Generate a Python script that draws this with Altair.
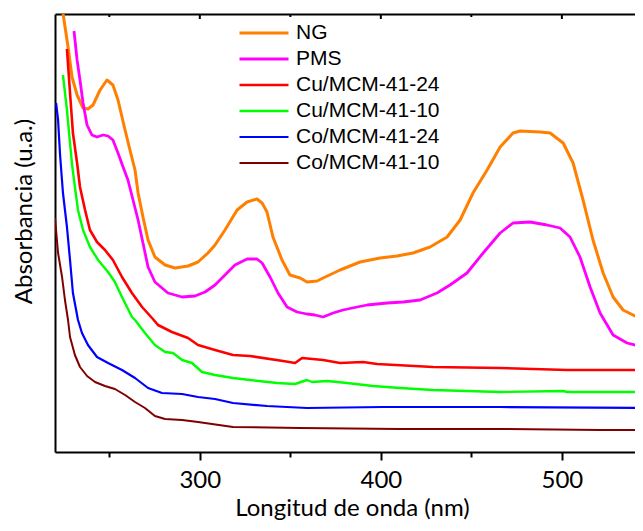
import altair as alt
import pandas as pd

names = ["NG", "PMS", "Cu/MCM-41-24", "Cu/MCM-41-10", "Co/MCM-41-24", "Co/MCM-41-10"]
colors = ["#FF7F00", "#FF00FF", "#FF0000", "#00FF00", "#0000FF", "#800000"]
widths = [3, 2, 2, 2, 2, 2]

ng_nm = [224.4, 227.2, 229.4, 232.2, 235.5, 238.2, 241.0, 244.9, 248.7, 252.0, 254.8, 258.7, 261.4, 264.2, 265.9,
         268.6, 271.4, 275.2, 280.8, 286.3, 293.5, 299.0, 304.5, 308.4, 313.9, 320.6, 326.1, 331.6, 334.4, 337.1,
         340.4, 345.4, 349.8, 355.4, 359.2, 364.8, 368.1, 377.5, 388.5, 399.6, 408.9, 417.8, 427.2, 436.6, 443.8,
         450.9, 458.7, 465.9, 473.0, 476.9, 488.0, 493.5, 500.7, 506.2, 511.7, 517.2, 522.8, 528.3, 533.8, 539.3, 544.9]
ng_abs = [4.39, 4.05, 3.75, 3.57, 3.44, 3.43, 3.47, 3.62, 3.72, 3.67, 3.52, 3.22, 3.02, 2.82, 2.59,
          2.35, 2.12, 1.95, 1.87, 1.84, 1.86, 1.90, 1.99, 2.07, 2.22, 2.42, 2.50, 2.53, 2.49, 2.40,
          2.15, 1.92, 1.77, 1.74, 1.70, 1.71, 1.74, 1.82, 1.90, 1.94, 1.96, 1.99, 2.05, 2.15, 2.32,
          2.59, 2.82, 3.05, 3.19, 3.21, 3.20, 3.19, 3.09, 2.89, 2.52, 2.12, 1.79, 1.55, 1.42, 1.37, 1.33]

pms_nm = [230.5, 232.2, 233.8, 235.5, 237.7, 240.4, 243.2, 246.5, 249.3, 252.0, 254.8, 257.6, 260.3, 263.1, 265.9,
          268.6, 271.4, 275.2, 282.4, 290.2, 297.3, 302.9, 308.4, 313.9, 319.4, 326.1, 331.6, 334.4, 338.8, 343.2,
          348.2, 353.7, 359.2, 363.6, 368.1, 373.6, 379.1, 386.9, 392.4, 403.4, 412.3, 421.7, 431.0, 438.2, 447.6,
          456.5, 465.9, 473.0, 482.4, 491.8, 499.0, 504.5, 510.0, 515.6, 521.1, 528.3, 536.0, 544.9]
pms_abs = [4.21, 3.92, 3.72, 3.49, 3.27, 3.17, 3.15, 3.17, 3.16, 3.12, 2.99, 2.85, 2.72, 2.52, 2.32,
           2.09, 1.85, 1.70, 1.59, 1.55, 1.56, 1.60, 1.67, 1.77, 1.87, 1.93, 1.93, 1.89, 1.75, 1.59,
           1.45, 1.40, 1.38, 1.37, 1.35, 1.39, 1.42, 1.45, 1.47, 1.49, 1.50, 1.52, 1.59, 1.67, 1.79,
           1.99, 2.19, 2.29, 2.30, 2.27, 2.24, 2.15, 1.95, 1.65, 1.39, 1.17, 1.09, 1.05]

cu24_nm = [226.6, 228.3, 229.9, 232.2, 233.8, 236.6, 239.3, 243.2, 247.6, 252.0, 257.0, 262.5, 268.1, 273.6, 276.9,
           284.6, 293.5, 299.0, 308.4, 318.3, 327.7, 346.0, 352.6, 356.5, 368.1, 377.5, 390.2, 397.9, 428.8, 465.9,
           502.9, 544.9]
cu24_abs = [4.03, 3.59, 3.19, 2.89, 2.65, 2.42, 2.22, 2.10, 2.02, 1.92, 1.75, 1.59, 1.45, 1.34, 1.27,
            1.20, 1.14, 1.07, 1.02, 0.97, 0.96, 0.91, 0.89, 0.94, 0.92, 0.89, 0.90, 0.88, 0.85, 0.84,
            0.82, 0.82]

cu10_nm = [224.4, 226.6, 228.3, 229.4, 231.0, 232.7, 235.5, 239.3, 243.8, 249.3, 253.1, 257.0, 262.5, 264.2, 269.7,
           275.2, 280.8, 285.2, 290.2, 295.7, 301.2, 308.4, 318.3, 327.7, 342.7, 352.6, 359.2, 362.0, 370.3, 381.3,
           395.7, 410.6, 428.8, 465.9, 500.7, 502.9, 544.9]
cu10_abs = [3.77, 3.42, 3.09, 2.88, 2.65, 2.42, 2.22, 2.05, 1.92, 1.80, 1.70, 1.55, 1.35, 1.32, 1.19,
            1.07, 1.00, 0.99, 0.92, 0.89, 0.80, 0.77, 0.74, 0.72, 0.69, 0.68, 0.72, 0.70, 0.71, 0.69,
            0.66, 0.64, 0.62, 0.60, 0.61, 0.60, 0.60]

co24_nm = [220.6, 221.7, 222.8, 224.4, 226.6, 228.3, 229.9, 232.7, 234.9, 238.2, 243.2, 249.3, 257.0, 264.2, 271.4,
           279.1, 290.2, 299.0, 308.4, 318.3, 337.1, 359.2, 401.2, 465.9, 544.9]
co24_abs = [3.49, 3.32, 2.97, 2.59, 2.25, 1.92, 1.59, 1.32, 1.19, 1.07, 0.95, 0.89, 0.82, 0.74, 0.64,
            0.59, 0.58, 0.55, 0.53, 0.49, 0.46, 0.44, 0.45, 0.45, 0.44]

co10_nm = [220.0, 221.7, 223.9, 225.5, 227.2, 228.3, 231.0, 233.8, 237.7, 242.1, 247.6, 253.1, 258.7, 264.2, 269.7,
           275.2, 280.8, 290.2, 299.0, 306.7, 318.3, 355.4, 410.6, 465.9, 521.1, 544.9]
co10_abs = [2.34, 1.99, 1.75, 1.52, 1.32, 1.15, 0.97, 0.85, 0.76, 0.70, 0.66, 0.63, 0.57, 0.50, 0.44,
            0.36, 0.33, 0.32, 0.30, 0.28, 0.25, 0.24, 0.23, 0.23, 0.22, 0.22]

major_ticks = [300, 400, 500]
minor_ticks = [250, 350, 450]

series = [(ng_nm, ng_abs), (pms_nm, pms_abs), (cu24_nm, cu24_abs),
          (cu10_nm, cu10_abs), (co24_nm, co24_abs), (co10_nm, co10_abs)]
rows = []
for name, (xs, ys) in zip(names, series):
    for xv, yv in zip(xs, ys):
        rows.append({"s": name, "nm": xv, "a": yv})
df = pd.DataFrame(rows)

# the page can only show ~580 px of plot width; keep the reference's px-per-nm
xscale = alt.Scale(domain=[220, 540.4], nice=False, zero=False)
yscale = alt.Scale(domain=[0, 4.38], nice=False, zero=False)

legend = alt.Legend(
    title=None, orient="none", legendX=183, legendY=7,
    symbolType="stroke", symbolSize=2401, labelFont="Liberation Sans",
    labelFontSize=21, labelColor="black", labelOffset=6,
    clipHeight=24, rowPadding=2, padding=0,
)

lines = alt.Chart(df).mark_line(clip=True, strokeJoin="round").encode(
    x=alt.X("nm:Q", scale=xscale, title="Longitud de onda (nm)",
            axis=alt.Axis(values=minor_ticks + major_ticks,
                          labelExpr="datum.value % 100 == 0 ? datum.label : ''",
                          tickSize={"condition": {"test": "datum.value % 100 == 0", "value": 8}, "value": 5},
                          labelPadding=8, titleBaseline="alphabetic", titleY=63, titleX=297, grid=False)),
    y=alt.Y("a:Q", scale=yscale, title="Absorbancia (u.a.)",
            axis=alt.Axis(ticks=False, labels=False, grid=False,
                          titleBaseline="alphabetic", titleX=-24, titleY=197)),
    color=alt.Color("s:N", scale=alt.Scale(domain=names, range=colors), sort=names, legend=legend),
    strokeWidth=alt.StrokeWidth("s:N", scale=alt.Scale(domain=names, range=widths), sort=names, legend=legend),
)

top_major = alt.Chart(pd.DataFrame({"nm": major_ticks})).mark_rule(color="black", strokeWidth=2).encode(
    x=alt.X("nm:Q", scale=xscale,
            axis=alt.Axis(orient="top", labels=False, ticks=False, title=None, grid=False)),
    y=alt.value(0), y2=alt.value(5),
)
top_minor = alt.Chart(pd.DataFrame({"nm": minor_ticks})).mark_rule(color="black", strokeWidth=2).encode(
    x=alt.X("nm:Q", scale=xscale, axis=None),
    y=alt.value(0), y2=alt.value(3),
)

chart = alt.layer(lines, top_major, top_minor).resolve_axis(x="independent").properties(
    width=580, height=438,
    autosize=alt.AutoSizeParams(type="none"),
    padding={"left": 47, "top": 6, "right": 0, "bottom": 71},
).configure_view(stroke=None).configure_axis(
    domainColor="black", domainWidth=2, tickColor="black", tickWidth=2,
    labelFont="Lato", labelFontSize=24, labelColor="black",
    titleFont="Lato", titleFontSize=24, titleFontWeight="normal", titleColor="black",
)

chart.save("out.html", embed_options={"renderer": "svg", "actions": False})
